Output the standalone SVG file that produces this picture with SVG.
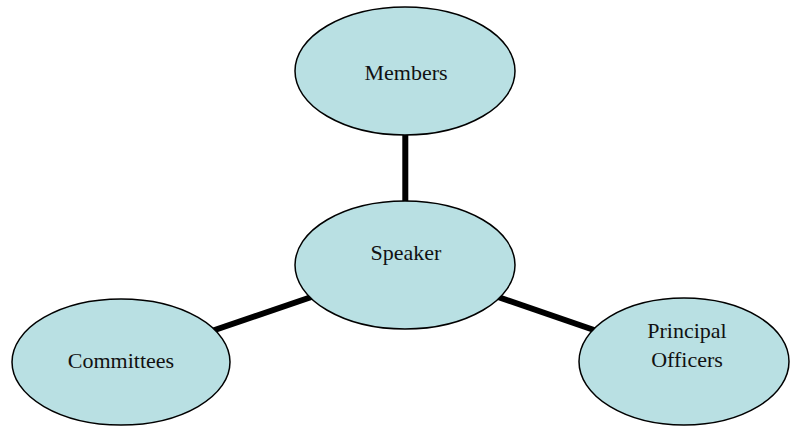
<svg xmlns="http://www.w3.org/2000/svg" width="790" height="427" viewBox="0 0 790 427">
<style>
.node{fill:#b9e0e3;stroke:#000;stroke-width:1.5}
.lbl{font-family:"Liberation Serif","Times New Roman",serif;font-size:22px;fill:#111;text-anchor:middle}
.conn{stroke:#000;stroke-width:6;fill:none}
</style>
<rect width="790" height="427" fill="#fff"/>
<g id="connectors">
<line class="conn" x1="405.3" y1="71" x2="405.3" y2="265"/>
<line class="conn" x1="405" y1="265" x2="121" y2="362"/>
<line class="conn" x1="405" y1="265" x2="684" y2="361"/>
</g>
<g id="members">
<ellipse class="node" cx="405" cy="71" rx="110" ry="64"/>
<text class="lbl" x="406" y="80">Members</text>
</g>
<g id="speaker">
<ellipse class="node" cx="405" cy="265" rx="110" ry="64"/>
<text class="lbl" x="406" y="260">Speaker</text>
</g>
<g id="committees">
<ellipse class="node" cx="121" cy="362" rx="109" ry="63"/>
<text class="lbl" x="121" y="368">Committees</text>
</g>
<g id="principal-officers">
<ellipse class="node" cx="684" cy="361.5" rx="105" ry="63.5"/>
<text class="lbl" x="687" y="338">Principal</text>
<text class="lbl" x="687" y="367">Officers</text>
</g>
</svg>
